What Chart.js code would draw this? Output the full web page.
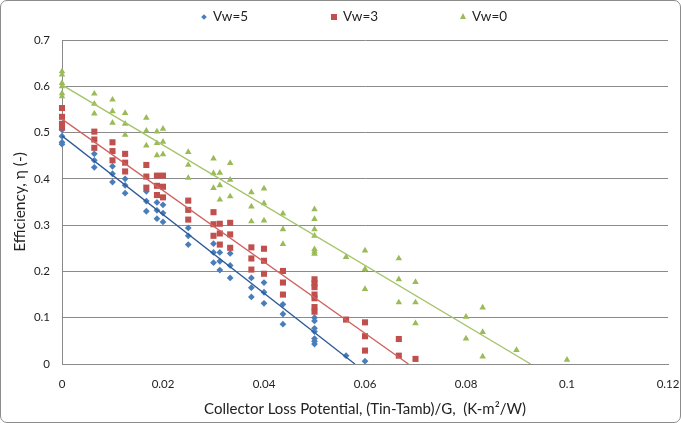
<!DOCTYPE html>
<html>
<head>
<meta charset="utf-8">
<script src="https://cdn.jsdelivr.net/npm/chart.js@4/dist/chart.umd.min.js"></script>
<style>
html,body{margin:0;padding:0;background:#fff;}
#wrap{position:relative;width:681px;height:423px;}
#frame{position:absolute;left:0;top:0;width:681px;height:423px;box-sizing:border-box;border:1px solid #8c8c8c;border-radius:7px;pointer-events:none;}
.lgt{position:absolute;top:8px;font:13.5px Lato,sans-serif;color:#222;line-height:17px;white-space:nowrap;}
.mk{position:absolute;}
</style>
</head>
<body>
<div id="wrap">
<canvas id="c" width="681" height="423"></canvas>
<div class="mk" style="left:202px;top:15px;width:4px;height:4px;background:#4a7ebb;transform:rotate(45deg);"></div>
<div class="lgt" style="left:213px;">Vw=5</div>
<div class="mk" style="left:331px;top:14px;width:6px;height:6px;background:#c0504d;"></div>
<div class="lgt" style="left:343px;">Vw=3</div>
<div class="mk" style="left:460px;top:13px;width:0;height:0;border-left:3.5px solid transparent;border-right:3.5px solid transparent;border-bottom:6px solid #9bbb59;"></div>
<div class="lgt" style="left:472px;">Vw=0</div>
<div id="frame"></div>
</div>
<script>
// Series names
const seriesNames = ['Vw=5', 'Vw=3', 'Vw=0'];

// Vw=5 (blue diamonds)
const vw5X = [0,0,0,0, 0.0064,0.0064,0.0064, 0.01,0.01,0.01, 0.0125,0.0125,0.0125,
  0.0167,0.0167,0.0167, 0.0188,0.0188,0.0188, 0.02,0.02,0.02, 0.025,0.025,0.025,
  0.03,0.03,0.03, 0.03125,0.03125,0.03125, 0.0333,0.0333,0.0333, 0.0375,0.0375,0.0375,
  0.04,0.04,0.04, 0.04375,0.04375,0.04375, 0.05,0.05,0.05,0.05,0.05,0.05,0.05,
  0.05625, 0.06];
const vw5Y = [0.506,0.492,0.479,0.475, 0.454,0.44,0.425, 0.427,0.411,0.393, 0.40,0.386,0.369,
  0.373,0.352,0.33, 0.349,0.332,0.314, 0.344,0.326,0.307, 0.294,0.277,0.258,
  0.26,0.241,0.219, 0.241,0.222,0.203, 0.239,0.213,0.186, 0.186,0.165,0.145,
  0.176,0.155,0.131, 0.129,0.108,0.086, 0.10,0.093,0.077,0.07,0.055,0.049,0.043,
  0.018, 0.006];

// Vw=3 (red squares)
const vw3X = [0,0,0,0, 0.0064,0.0064,0.0064, 0.01,0.01,0.01, 0.0125,0.0125,0.0125,
  0.0167,0.0167,0.0167, 0.0188,0.0188,0.0188, 0.02,0.02,0.02, 0.025,0.025,0.025,
  0.03,0.03,0.03, 0.03125,0.03125,0.03125, 0.0333,0.0333,0.0333, 0.0375,0.0375,0.0375,
  0.04,0.04,0.04, 0.04375,0.04375,0.04375, 0.05,0.05,0.05,0.05,0.05,0.05,0.05,
  0.05625, 0.06,0.06,0.06, 0.0667,0.0667, 0.07];
const vw3Y = [0.553,0.534,0.519,0.511, 0.502,0.485,0.467, 0.479,0.46,0.44, 0.454,0.435,0.416,
  0.43,0.405,0.381, 0.407,0.385,0.365, 0.407,0.383,0.36, 0.353,0.333,0.312,
  0.328,0.302,0.277, 0.303,0.282,0.258, 0.305,0.28,0.251, 0.252,0.228,0.204,
  0.249,0.223,0.195, 0.201,0.176,0.150, 0.183,0.174,0.166,0.150,0.142,0.123,0.113,
  0.096, 0.09,0.06,0.029, 0.054,0.018, 0.011];

// Vw=0 (green triangles)
const vw0X = [0,0,0,0,0,0, 0.0064,0.0064,0.0064, 0.01,0.01,0.01, 0.0125,0.0125,0.0125,
  0.0167,0.0167,0.0167, 0.0188,0.0188,0.0188, 0.02,0.02,0.02, 0.025,0.025,0.025,
  0.03,0.03,0.03, 0.03125,0.03125,0.03125, 0.0333,0.0333,0.0333, 0.0375,0.0375,0.0375,
  0.04,0.04,0.04, 0.04375,0.04375,0.04375, 0.05,0.05,0.05,0.05,0.05,0.05,0.05,
  0.05625, 0.06,0.06,0.06, 0.0667,0.0667,0.0667, 0.07,0.07,0.07, 0.08,0.08,
  0.0833,0.0833,0.0833, 0.09, 0.1];
const vw0Y = [0.632,0.625,0.607,0.600,0.585,0.578, 0.584,0.562,0.541, 0.571,0.546,0.521, 0.542,0.519,0.495,
  0.532,0.504,0.472, 0.502,0.477,0.451, 0.508,0.48,0.453, 0.458,0.43,0.402,
  0.444,0.412,0.38, 0.413,0.386,0.355, 0.434,0.398,0.362, 0.371,0.34,0.308,
  0.379,0.347,0.31, 0.325,0.291,0.259, 0.334,0.313,0.291,0.277,0.248,0.243,0.238,
  0.231, 0.245,0.205,0.162, 0.228,0.183,0.133, 0.177,0.133,0.088, 0.102,0.055,
  0.122,0.069,0.016, 0.030, 0.009];

// Linear trendlines (endpoints: y-intercept and x-intercept)
const trend5X = [0, 0.058],   trend5Y = [0.493, 0];
const trend3X = [0, 0.0686],  trend3Y = [0.529, 0];
const trend0X = [0, 0.0928],  trend0Y = [0.603, 0];

// Axis ticks
const xTicks = [0, 0.02, 0.04, 0.06, 0.08, 0.1, 0.12];
const xTickLabels = ['0', '0.02', '0.04', '0.06', '0.08', '0.1', '0.12'];
const yTicks = [0, 0.1, 0.2, 0.3, 0.4, 0.5, 0.6, 0.7];
const yTickLabels = ['0', '0.1', '0.2', '0.3', '0.4', '0.5', '0.6', '0.7'];

const xTitle = 'Collector Loss Potential, (Tin-Tamb)/G,  (K-m\u00B2/W)';
const yTitle = 'Efficiency, \u03B7 (-)';

function pairs(xs, ys) { return xs.map((x, i) => ({x: x, y: ys[i]})); }

const GRID = '#8a8a8a';
const FONT = 'Lato, sans-serif';

new Chart(document.getElementById('c'), {
  type: 'scatter',
  data: {
    datasets: [
      { label: seriesNames[0], data: pairs(vw5X, vw5Y), pointStyle: 'rectRot', pointRadius: 3.4,
        backgroundColor: '#4a7ebb', borderColor: '#4a7ebb', borderWidth: 0, clip: false, order: 5 },
      { label: seriesNames[1], data: pairs(vw3X, vw3Y), pointStyle: 'rect', pointRadius: 4.3,
        backgroundColor: '#c0504d', borderColor: '#c0504d', borderWidth: 0, clip: false, order: 4 },
      { label: seriesNames[2], data: pairs(vw0X, vw0Y), pointStyle: 'triangle', pointRadius: 3.8,
        backgroundColor: '#9bbb59', borderColor: '#9bbb59', borderWidth: 0, clip: false, order: 3 },
      { label: 'trend5', type: 'line', data: pairs(trend5X, trend5Y), showLine: true, pointRadius: 0,
        borderColor: '#2f5a97', borderWidth: 1.3, fill: false, order: 2 },
      { label: 'trend3', type: 'line', data: pairs(trend3X, trend3Y), showLine: true, pointRadius: 0,
        borderColor: '#d0625f', borderWidth: 1.3, fill: false, order: 1 },
      { label: 'trend0', type: 'line', data: pairs(trend0X, trend0Y), showLine: true, pointRadius: 0,
        borderColor: '#a5c46a', borderWidth: 1.3, fill: false, order: 0 }
    ]
  },
  options: {
    responsive: false,
    animation: false,
    events: [],
    layout: { padding: { top: 40, right: 13, left: 0, bottom: 0 } },
    plugins: { legend: { display: false }, tooltip: { enabled: false } },
    scales: {
      x: {
        type: 'linear', min: 0, max: 0.12,
        afterBuildTicks: s => { s.ticks = xTicks.map(v => ({value: v})); },
        afterFit: s => { s.height = 59; },
        ticks: { padding: 0, color: '#222', font: { family: FONT, size: 11.5 },
                 callback: (v, i) => xTickLabels[i], maxRotation: 0, autoSkip: false },
        grid: { display: true, drawOnChartArea: false, drawTicks: true, tickLength: 13,
                tickColor: 'rgba(0,0,0,0)', color: GRID },
        border: { display: true, color: GRID, width: 1 },
        title: { display: true, text: xTitle, color: '#222', font: { family: FONT, size: 15 },
                 padding: { top: 0, bottom: 5 } }
      },
      y: {
        type: 'linear', min: 0, max: 0.7,
        afterBuildTicks: s => { s.ticks = yTicks.map(v => ({value: v})); },
        afterFit: s => { s.width = 62; },
        ticks: { padding: 12, color: '#222', font: { family: FONT, size: 11.5 },
                 callback: (v, i) => yTickLabels[i] },
        grid: { color: GRID, drawTicks: false, lineWidth: 1 },
        border: { display: true, color: GRID, width: 1 },
        title: { display: true, text: yTitle, color: '#222', font: { family: FONT, size: 15.5 },
                 padding: { top: 11, bottom: 0 } }
      }
    }
  }
});
</script>
</body>
</html>
